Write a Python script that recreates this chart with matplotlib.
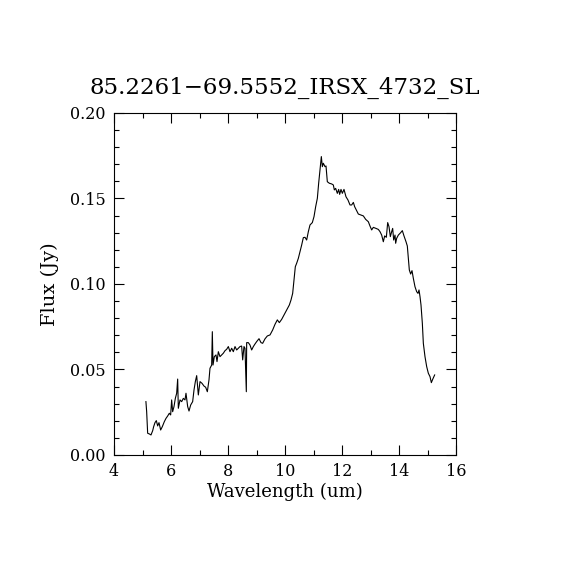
import numpy as np
import matplotlib
matplotlib.use('Agg')
import matplotlib.pyplot as plt
from matplotlib.ticker import MultipleLocator, FormatStrFormatter

# spectrum (wavelength in um, flux in Jy)
wavelength = [5.12, 5.146, 5.181, 5.24, 5.298, 5.357, 5.392, 5.438, 5.485, 5.532,
              5.579, 5.637, 5.696, 5.766, 5.824, 5.883, 5.941, 5.988, 6.023, 6.058,
              6.105, 6.152, 6.199, 6.234, 6.257, 6.316, 6.374, 6.433, 6.491, 6.526,
              6.585, 6.632, 6.690, 6.760, 6.807, 6.854, 6.901, 6.959, 7.018, 7.088,
              7.158, 7.216, 7.275, 7.333, 7.368, 7.427, 7.450, 7.474, 7.520, 7.579,
              7.614, 7.661, 7.719, 7.778, 7.836, 7.895, 7.953, 8.012, 8.070, 8.129,
              8.187, 8.246, 8.304, 8.362, 8.421, 8.479, 8.515, 8.561, 8.596, 8.620,
              8.643, 8.655, 8.713, 8.772, 8.830, 8.889, 8.947, 9.006, 9.088, 9.158,
              9.216, 9.298, 9.380, 9.474, 9.567, 9.649, 9.731, 9.801, 9.883, 9.965,
              10.058, 10.152, 10.21, 10.269, 10.316, 10.362, 10.409, 10.468, 10.526, 10.585,
              10.643, 10.702, 10.760, 10.819, 10.877, 10.959, 11.018, 11.076, 11.135, 11.181,
              11.228, 11.275, 11.310, 11.345, 11.404, 11.439, 11.485, 11.556, 11.637, 11.696,
              11.731, 11.778, 11.836, 11.883, 11.918, 11.965, 12.012, 12.070, 12.140, 12.210,
              12.281, 12.339, 12.398, 12.444, 12.515, 12.573, 12.655, 12.749, 12.830, 12.924,
              12.982, 13.041, 13.099, 13.193, 13.275, 13.333, 13.392, 13.450, 13.497, 13.556,
              13.603, 13.649, 13.696, 13.743, 13.778, 13.813, 13.860, 13.883, 13.918, 13.977,
              14.058, 14.117, 14.175, 14.246, 14.292, 14.327, 14.362, 14.409, 14.456, 14.503,
              14.561, 14.620, 14.667, 14.702, 14.737, 14.772, 14.819, 14.854, 14.912, 14.971,
              15.029, 15.088, 15.135, 15.181, 15.251]
flux = [0.0312, 0.0253, 0.0127, 0.0123, 0.0117, 0.0142, 0.0166, 0.0189, 0.0201, 0.0170,
        0.0189, 0.0146, 0.0166, 0.0195, 0.0214, 0.0228, 0.0244, 0.0234, 0.0322, 0.0253,
        0.0283, 0.0331, 0.0361, 0.0444, 0.0273, 0.0322, 0.0312, 0.0331, 0.0322, 0.0361,
        0.0283, 0.0257, 0.0292, 0.0312, 0.0380, 0.0429, 0.0464, 0.0351, 0.0429, 0.0419,
        0.0403, 0.0396, 0.0370, 0.0439, 0.0507, 0.0526, 0.0721, 0.0526, 0.0575, 0.0585,
        0.0546, 0.0604, 0.0575, 0.0585, 0.0595, 0.0610, 0.0618, 0.0634, 0.0604, 0.0624,
        0.0604, 0.0634, 0.0614, 0.0624, 0.0634, 0.0637, 0.0556, 0.0634, 0.0624, 0.0487,
        0.0370, 0.0657, 0.0657, 0.0643, 0.0614, 0.0634, 0.0649, 0.0663, 0.0680, 0.0657,
        0.0653, 0.0679, 0.0696, 0.0702, 0.0731, 0.0764, 0.0790, 0.0774, 0.0793, 0.0819,
        0.0848, 0.0877, 0.0906, 0.0945, 0.1024, 0.1101, 0.1121, 0.1150, 0.1189, 0.1228,
        0.1271, 0.1273, 0.1257, 0.1306, 0.1345, 0.1359, 0.1394, 0.1452, 0.1501, 0.1589,
        0.1667, 0.1745, 0.1686, 0.1706, 0.1686, 0.1690, 0.1598, 0.1589, 0.1585, 0.1579,
        0.1550, 0.1559, 0.1530, 0.1553, 0.1524, 0.1553, 0.1530, 0.1553, 0.1510, 0.1491,
        0.1462, 0.1462, 0.1477, 0.1452, 0.1429, 0.1409, 0.1404, 0.1398, 0.1378, 0.1364,
        0.1339, 0.1316, 0.1331, 0.1325, 0.1319, 0.1306, 0.1286, 0.1247, 0.1281, 0.1273,
        0.1359, 0.1335, 0.1277, 0.1306, 0.1325, 0.1257, 0.1286, 0.1238, 0.1267, 0.1286,
        0.1300, 0.1312, 0.1281, 0.1247, 0.1222, 0.1150, 0.1082, 0.1058, 0.1078, 0.1033,
        0.0984, 0.0955, 0.0945, 0.0965, 0.0926, 0.0877, 0.0770, 0.0653, 0.0575, 0.0517,
        0.0478, 0.0458, 0.0423, 0.0442, 0.0468]

title = '85.2261\u221269.5552_IRSX_4732_SL'

plt.rcParams['font.family'] = ['DejaVu Serif']

fig = plt.figure(figsize=(5.7, 5.7), dpi=100)
ax = fig.add_axes([0.2, 0.2018, 0.6, 0.6])

ax.plot(wavelength, flux, color='black', linewidth=0.8)

ax.set_xlim(4, 16)
ax.set_ylim(0, 0.20)
ax.xaxis.set_major_locator(MultipleLocator(2))
ax.xaxis.set_minor_locator(MultipleLocator(1))
ax.yaxis.set_major_locator(MultipleLocator(0.05))
ax.yaxis.set_minor_locator(MultipleLocator(0.01))
ax.yaxis.set_major_formatter(FormatStrFormatter('%.2f'))
ax.tick_params(which='both', direction='in', top=True, right=True, width=0.8,
               labelsize=11.5)
ax.tick_params(which='major', length=7, pad=6)
ax.tick_params(which='minor', length=3.5)
for s in ax.spines.values():
    s.set_linewidth(0.8)

ax.set_xlabel('Wavelength (um)', fontsize=13, labelpad=2)
ax.set_ylabel('Flux (Jy)', fontsize=14, labelpad=8)
ax.set_title(title, fontsize=16.5, pad=14)

fig.savefig('out.png', dpi=100)
